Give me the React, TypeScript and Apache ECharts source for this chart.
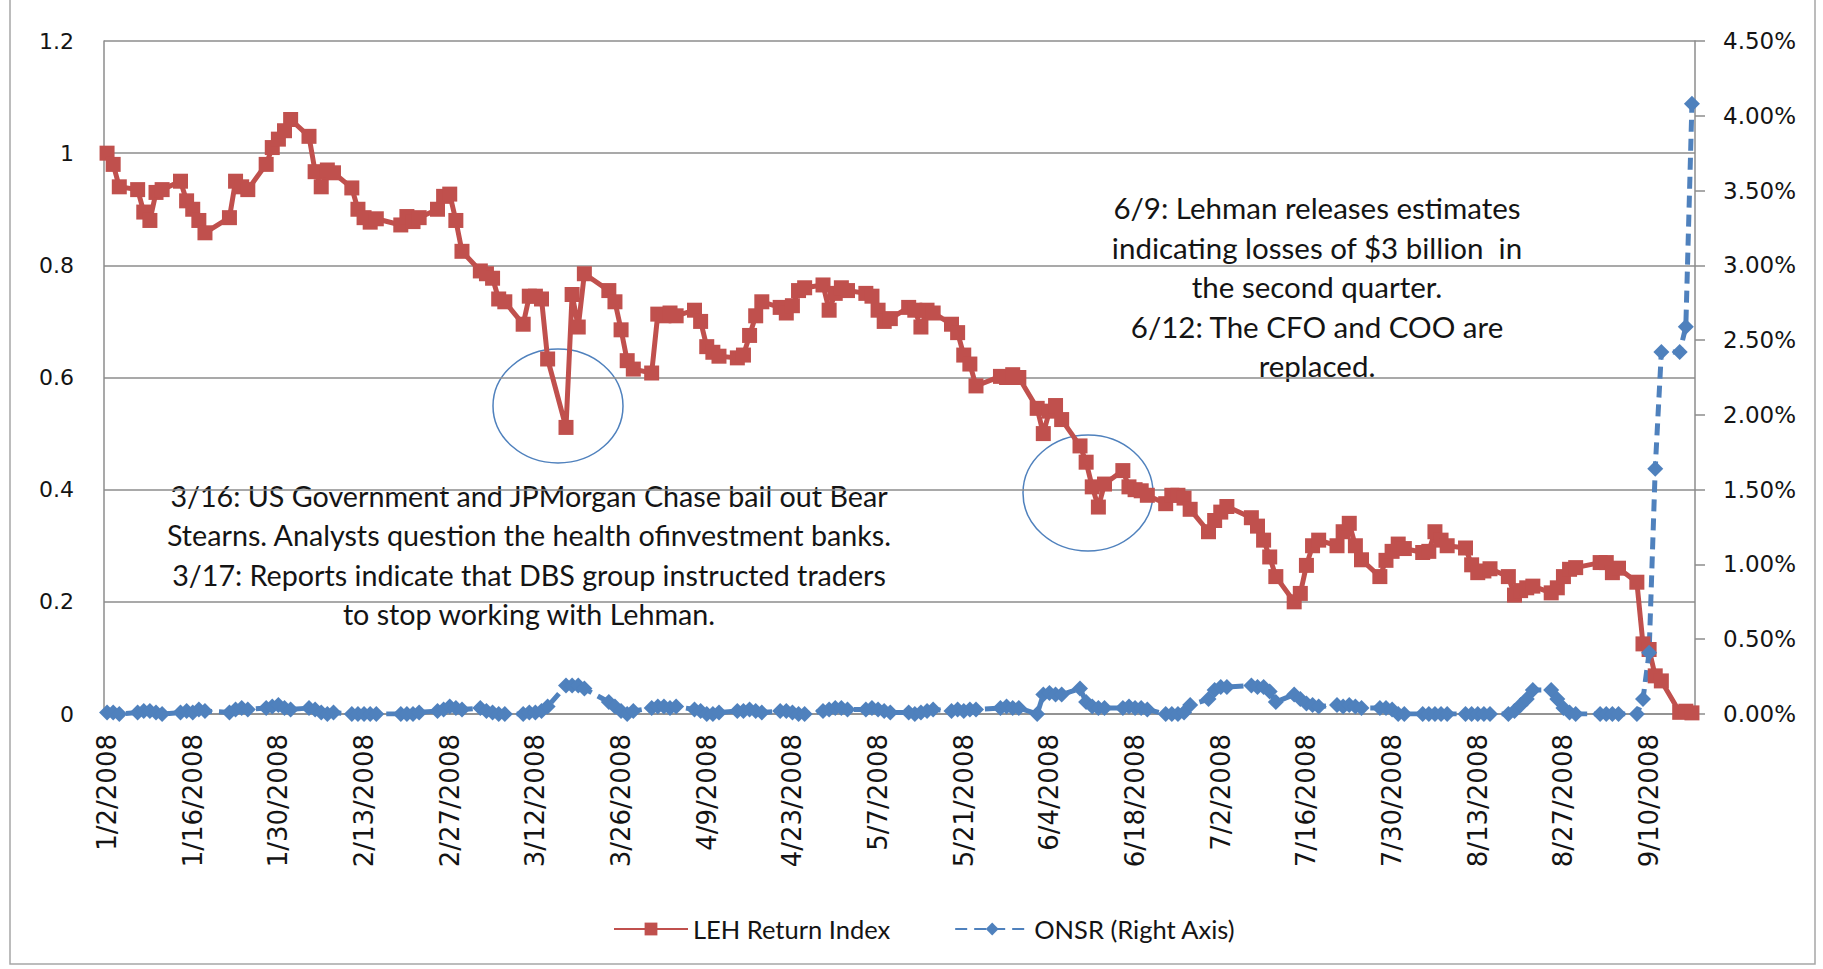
import React, { useEffect, useRef } from "react";
import * as echarts from "echarts";

// Market holidays (no trading) in the plotted period
const holidays = ["1/21/2008", "2/18/2008", "3/21/2008", "5/26/2008", "7/4/2008", "9/1/2008"];

// LEH Return Index, one value per trading day, by month
const lehJan = [1.0, 0.98, 0.94, 0.935, 0.895, 0.88, 0.93, 0.935, 0.95, 0.915, 0.9, 0.88, 0.858, 0.885, 0.95, 0.94, 0.935, 0.98, 1.01, 1.025, 1.04];
const lehFeb = [1.06, 1.03, 0.967, 0.94, 0.97, 0.965, 0.938, 0.9, 0.885, 0.877, 0.883, 0.872, 0.887, 0.878, 0.885, 0.9, 0.923, 0.927, 0.88, 0.825];
const lehMar = [0.79, 0.785, 0.777, 0.74, 0.735, 0.695, 0.745, 0.745, 0.74, 0.633, 0.511, 0.748, 0.69, 0.785, 0.755, 0.735, 0.685, 0.63, 0.615, 0.608];
const lehApr = [0.713, 0.71, 0.715, 0.71, 0.72, 0.7, 0.655, 0.645, 0.638, 0.635, 0.64, 0.675, 0.71, 0.735, 0.725, 0.715, 0.728, 0.755, 0.76, 0.765, 0.72, 0.75];
const lehMay = [0.76, 0.755, 0.75, 0.745, 0.72, 0.7, 0.705, 0.725, 0.72, 0.69, 0.72, 0.715, 0.695, 0.68, 0.64, 0.624, 0.585, 0.602, 0.6, 0.605, 0.6];
const lehJun = [0.545, 0.5, 0.54, 0.55, 0.525, 0.478, 0.449, 0.405, 0.369, 0.41, 0.434, 0.405, 0.4, 0.398, 0.39, 0.375, 0.39, 0.39, 0.385, 0.365, 0.325];
const lehJul = [0.345, 0.36, 0.37, 0.35, 0.335, 0.31, 0.28, 0.245, 0.2, 0.215, 0.265, 0.3, 0.31, 0.3, 0.325, 0.34, 0.3, 0.275, 0.245, 0.274, 0.29, 0.303];
const lehAug = [0.295, 0.288, 0.29, 0.325, 0.31, 0.3, 0.296, 0.266, 0.252, 0.255, 0.259, 0.245, 0.212, 0.22, 0.225, 0.228, 0.216, 0.225, 0.245, 0.258, 0.261];
const lehSep = [0.27, 0.27, 0.252, 0.26, 0.235, 0.125, 0.115, 0.068, 0.059, 0.003, 0.005, 0.002];

// ONSR (percent, right axis), one value per trading day, by month
const onsrJan = [0.01, 0.01, 0.0, 0.01, 0.02, 0.02, 0.01, 0.0, 0.01, 0.02, 0.01, 0.03, 0.02, 0.01, 0.03, 0.04, 0.03, 0.04, 0.05, 0.06, 0.04];
const onsrFeb = [0.03, 0.04, 0.03, 0.01, 0.0, 0.01, 0.0, 0.0, 0.0, 0.0, 0.0, 0.0, 0.0, 0.0, 0.01, 0.02, 0.03, 0.05, 0.04, 0.03];
const onsrMar = [0.04, 0.02, 0.01, 0.0, 0.0, 0.0, 0.01, 0.01, 0.02, 0.05, 0.19, 0.19, 0.19, 0.17, 0.08, 0.05, 0.02, 0.0, 0.02, 0.04];
const onsrApr = [0.05, 0.05, 0.04, 0.05, 0.03, 0.02, 0.0, 0.0, 0.01, 0.02, 0.02, 0.03, 0.02, 0.01, 0.02, 0.02, 0.01, 0.0, 0.0, 0.02, 0.03, 0.04];
const onsrMay = [0.04, 0.03, 0.03, 0.04, 0.03, 0.02, 0.01, 0.01, 0.0, 0.01, 0.02, 0.03, 0.02, 0.03, 0.02, 0.03, 0.03, 0.04, 0.05, 0.04, 0.04];
const onsrJun = [0.0, 0.13, 0.14, 0.13, 0.13, 0.17, 0.08, 0.05, 0.04, 0.04, 0.04, 0.05, 0.04, 0.04, 0.03, 0.0, 0.0, 0.0, 0.01, 0.06, 0.1];
const onsrJul = [0.16, 0.18, 0.18, 0.19, 0.18, 0.18, 0.15, 0.08, 0.13, 0.1, 0.07, 0.06, 0.05, 0.06, 0.05, 0.06, 0.05, 0.04, 0.04, 0.04, 0.03, 0.0];
const onsrAug = [0.0, 0.0, 0.0, 0.0, 0.0, 0.0, 0.0, 0.0, 0.0, 0.0, 0.0, 0.0, 0.02, 0.06, 0.1, 0.16, 0.16, 0.1, 0.04, 0.01, 0.0];
const onsrSep = [0.0, 0.0, 0.0, 0.0, 0.0, 0.1, 0.41, 1.64, 2.42, 2.42, 2.59, 4.08];

const leftTicks = { min: 0, max: 1.2, interval: 0.2 };
const rightTicks = { min: 0, max: 4.5, interval: 0.5 };

const annotation1 = [
  "3/16: US Government and JPMorgan Chase bail out Bear",
  "Stearns. Analysts question the health ofinvestment banks.",
  "3/17: Reports indicate that DBS group instructed traders",
  "to stop working with Lehman.",
];
const annotation2 = [
  "6/9: Lehman releases estimates",
  "indicating losses of $3 billion  in",
  "the second quarter.",
  "6/12: The CFO and COO are",
  "replaced.",
];

function buildCalendar() {
  const days: { label: string; trading: boolean }[] = [];
  const d = new Date(Date.UTC(2008, 0, 2));
  const end = Date.UTC(2008, 8, 17);
  while (d.getTime() <= end) {
    const label = `${d.getUTCMonth() + 1}/${d.getUTCDate()}/${d.getUTCFullYear()}`;
    const wd = d.getUTCDay();
    days.push({ label, trading: wd !== 0 && wd !== 6 && holidays.indexOf(label) < 0 });
    d.setUTCDate(d.getUTCDate() + 1);
  }
  return days;
}

function spread(days: { trading: boolean }[], values: number[]) {
  let k = 0;
  return days.map((d) => (d.trading ? (k < values.length ? values[k++] : null) : null));
}

const FONT_AXIS = "DejaVu Sans";
const FONT_TEXT = "Lato";

export default function App() {
  const ref = useRef<HTMLDivElement>(null);
  useEffect(() => {
    if (!ref.current) return;
    const chart = echarts.init(ref.current, undefined, { renderer: "svg" });
    const days = buildCalendar();
    const categories = days.map((d) => d.label);
    const leh = spread(days, [...lehJan, ...lehFeb, ...lehMar, ...lehApr, ...lehMay, ...lehJun, ...lehJul, ...lehAug, ...lehSep]);
    const onsr = spread(days, [...onsrJan, ...onsrFeb, ...onsrMar, ...onsrApr, ...onsrMay, ...onsrJun, ...onsrJul, ...onsrAug, ...onsrSep]);

    const gridColor = "#8c8c8c";
    const textColor = "#141414";
    chart.setOption({
      animation: false,
      backgroundColor: "#ffffff",
      grid: { left: 104, right: 128, top: 41, bottom: 255 },
      legend: {
        data: ["LEH Return Index", "ONSR (Right Axis)"],
        left: 608,
        top: 911,
        itemWidth: 74,
        itemHeight: 16,
        itemGap: 64,
        textStyle: { fontFamily: FONT_TEXT, fontSize: 25.5, color: textColor },
      },
      xAxis: {
        type: "category",
        data: categories,
        boundaryGap: true,
        axisLine: { lineStyle: { color: gridColor, width: 1.5 } },
        axisTick: { show: false },
        axisLabel: {
          interval: 13,
          rotate: 90,
          margin: 20,
          fontFamily: FONT_AXIS,
          fontSize: 26,
          color: textColor,
        },
        splitLine: { show: false },
      },
      yAxis: [
        {
          type: "value",
          ...leftTicks,
          axisLine: { show: true, lineStyle: { color: gridColor, width: 1.5 } },
          axisTick: { show: false },
          axisLabel: {
            margin: 30,
            fontFamily: FONT_AXIS,
            fontSize: 22,
            color: textColor,
            formatter: (v: number) => String(parseFloat(v.toFixed(1))),
          },
          splitLine: { show: true, lineStyle: { color: gridColor, width: 1.5 } },
        },
        {
          type: "value",
          position: "right",
          ...rightTicks,
          axisLine: { show: true, lineStyle: { color: gridColor, width: 1.5 } },
          axisTick: { show: true, inside: false, length: 10, lineStyle: { color: gridColor, width: 1.5 } },
          axisLabel: {
            margin: 28,
            fontFamily: FONT_AXIS,
            fontSize: 23,
            color: textColor,
            formatter: (v: number) => v.toFixed(2) + "%",
          },
          splitLine: { show: false },
        },
      ],
      series: [
        {
          name: "LEH Return Index",
          type: "line",
          yAxisIndex: 0,
          data: leh,
          connectNulls: true,
          symbol: "rect",
          symbolSize: 15,
          showAllSymbol: true,
          lineStyle: { color: "#C0504D", width: 5 },
          itemStyle: { color: "#C0504D" },
        },
        {
          name: "ONSR (Right Axis)",
          type: "line",
          yAxisIndex: 1,
          data: onsr,
          connectNulls: true,
          symbol: "diamond",
          symbolSize: 16,
          showAllSymbol: true,
          lineStyle: { color: "#4F81BD", width: 5, type: [12, 7] },
          itemStyle: { color: "#4F81BD" },
        },
      ],
      graphic: [
        {
          type: "rect",
          shape: { x: 10, y: -2, width: 1805, height: 966 },
          style: { fill: "none", stroke: "#a6a6a6", lineWidth: 1.5 },
          silent: true,
          z: 0,
        },
        {
          type: "rect",
          shape: { x: 120, y: 470, width: 810, height: 168 },
          style: { fill: "#ffffff" },
          silent: true,
        },
        {
          type: "text",
          x: 529,
          y: 476,
          style: {
            text: annotation1.join("\n"),
            fontFamily: FONT_TEXT,
            fontSize: 28.7,
            lineHeight: 39.5,
            fill: textColor,
            align: "center",
          },
          silent: true,
        },
        {
          type: "rect",
          shape: { x: 1076, y: 182, width: 484, height: 210 },
          style: { fill: "#ffffff" },
          silent: true,
        },
        {
          type: "text",
          x: 1317,
          y: 188,
          style: {
            text: annotation2.join("\n"),
            fontFamily: FONT_TEXT,
            fontSize: 29.5,
            lineHeight: 39.5,
            fill: textColor,
            align: "center",
          },
          silent: true,
        },
        {
          type: "ellipse",
          shape: { cx: 558, cy: 406, rx: 65, ry: 57 },
          style: { fill: "none", stroke: "#4F81BD", lineWidth: 1.5 },
          silent: true,
        },
        {
          type: "ellipse",
          shape: { cx: 1088, cy: 493, rx: 65, ry: 58 },
          style: { fill: "none", stroke: "#4F81BD", lineWidth: 1.5 },
          silent: true,
        },
      ],
    });
    return () => chart.dispose();
  }, []);
  return (
    <div
      ref={ref}
      style={{ position: "fixed", left: 0, top: 0, width: 1823, height: 969, background: "#fff" }}
    />
  );
}
